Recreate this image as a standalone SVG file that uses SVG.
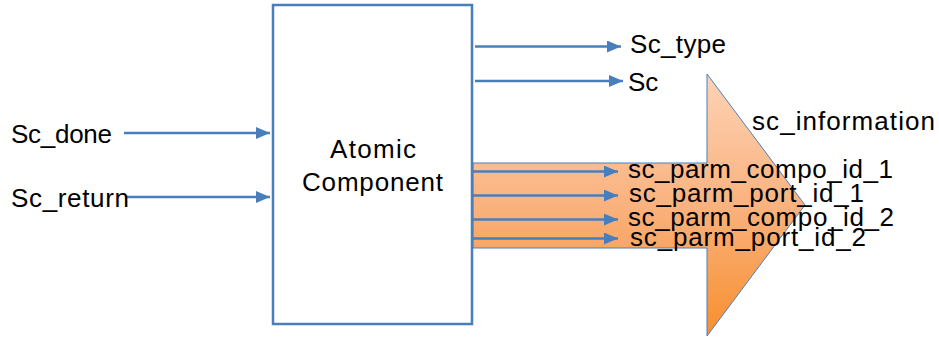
<svg xmlns="http://www.w3.org/2000/svg" width="939" height="338" viewBox="0 0 939 338">
  <defs>
    <linearGradient id="orangeGrad" x1="0" y1="74" x2="0" y2="336" gradientUnits="userSpaceOnUse">
      <stop offset="0" stop-color="#FDD3B6"/>
      <stop offset="0.5" stop-color="#FAB27E"/>
      <stop offset="1" stop-color="#F78F2E"/>
    </linearGradient>
    <marker id="arrow" markerWidth="14" markerHeight="12" refX="14" refY="6" orient="auto" markerUnits="userSpaceOnUse">
      <path d="M0,0 L14,6 L0,12 Z" fill="#4A7EBB"/>
    </marker>
    <style>
      .lbl { font-family: "Liberation Sans", Arial, sans-serif; font-size: 26px; fill: #000000; }
      .conn { stroke: #4A7EBB; stroke-width: 2.5; fill: none; marker-end: url(#arrow); }
      .box { fill: #FFFFFF; stroke: #4A7EBB; stroke-width: 2.5; }
    </style>
  </defs>

  <g id="sc_information">
    <path d="M473,163 L707,163 L707,74 L805,205 L707,336 L707,248 L473,248 Z" fill="url(#orangeGrad)" stroke="#4A7EBB" stroke-width="1"/>
    <text class="lbl" x="752" y="130" textLength="183">sc_information</text>
  </g>

  <g id="atomic_component">
    <rect class="box" x="273" y="5" width="199" height="319"/>
    <text class="lbl" x="330" y="158" textLength="86">Atomic</text>
    <text class="lbl" x="302" y="191" textLength="141">Component</text>
  </g>

  <g id="connectors">
    <line class="conn" x1="124" y1="133" x2="270" y2="133"/>
    <line class="conn" x1="127" y1="197" x2="270" y2="197"/>
    <line class="conn" x1="475" y1="46.5" x2="621" y2="46.5"/>
    <line class="conn" x1="475" y1="81" x2="623" y2="81"/>
    <line class="conn" x1="473" y1="171.5" x2="618" y2="171.5"/>
    <line class="conn" x1="473" y1="195.5" x2="618" y2="195.5"/>
    <line class="conn" x1="473" y1="219.5" x2="618" y2="219.5"/>
    <line class="conn" x1="473" y1="238.5" x2="618" y2="238.5"/>
  </g>

  <g id="labels">
    <text class="lbl" x="11" y="143" textLength="101">Sc_done</text>
    <text class="lbl" x="11" y="207" textLength="118">Sc_return</text>
    <text class="lbl" x="630" y="53" textLength="96">Sc_type</text>
    <text class="lbl" x="628" y="91">Sc</text>
    <text class="lbl" x="628" y="178" textLength="265">sc_parm_compo_id_1</text>
    <text class="lbl" x="629" y="202" textLength="235">sc_parm_port_id_1</text>
    <text class="lbl" x="628" y="226" textLength="266">sc_parm_compo_id_2</text>
    <text class="lbl" x="630" y="246" textLength="236">sc_parm_port_id_2</text>
  </g>
</svg>
